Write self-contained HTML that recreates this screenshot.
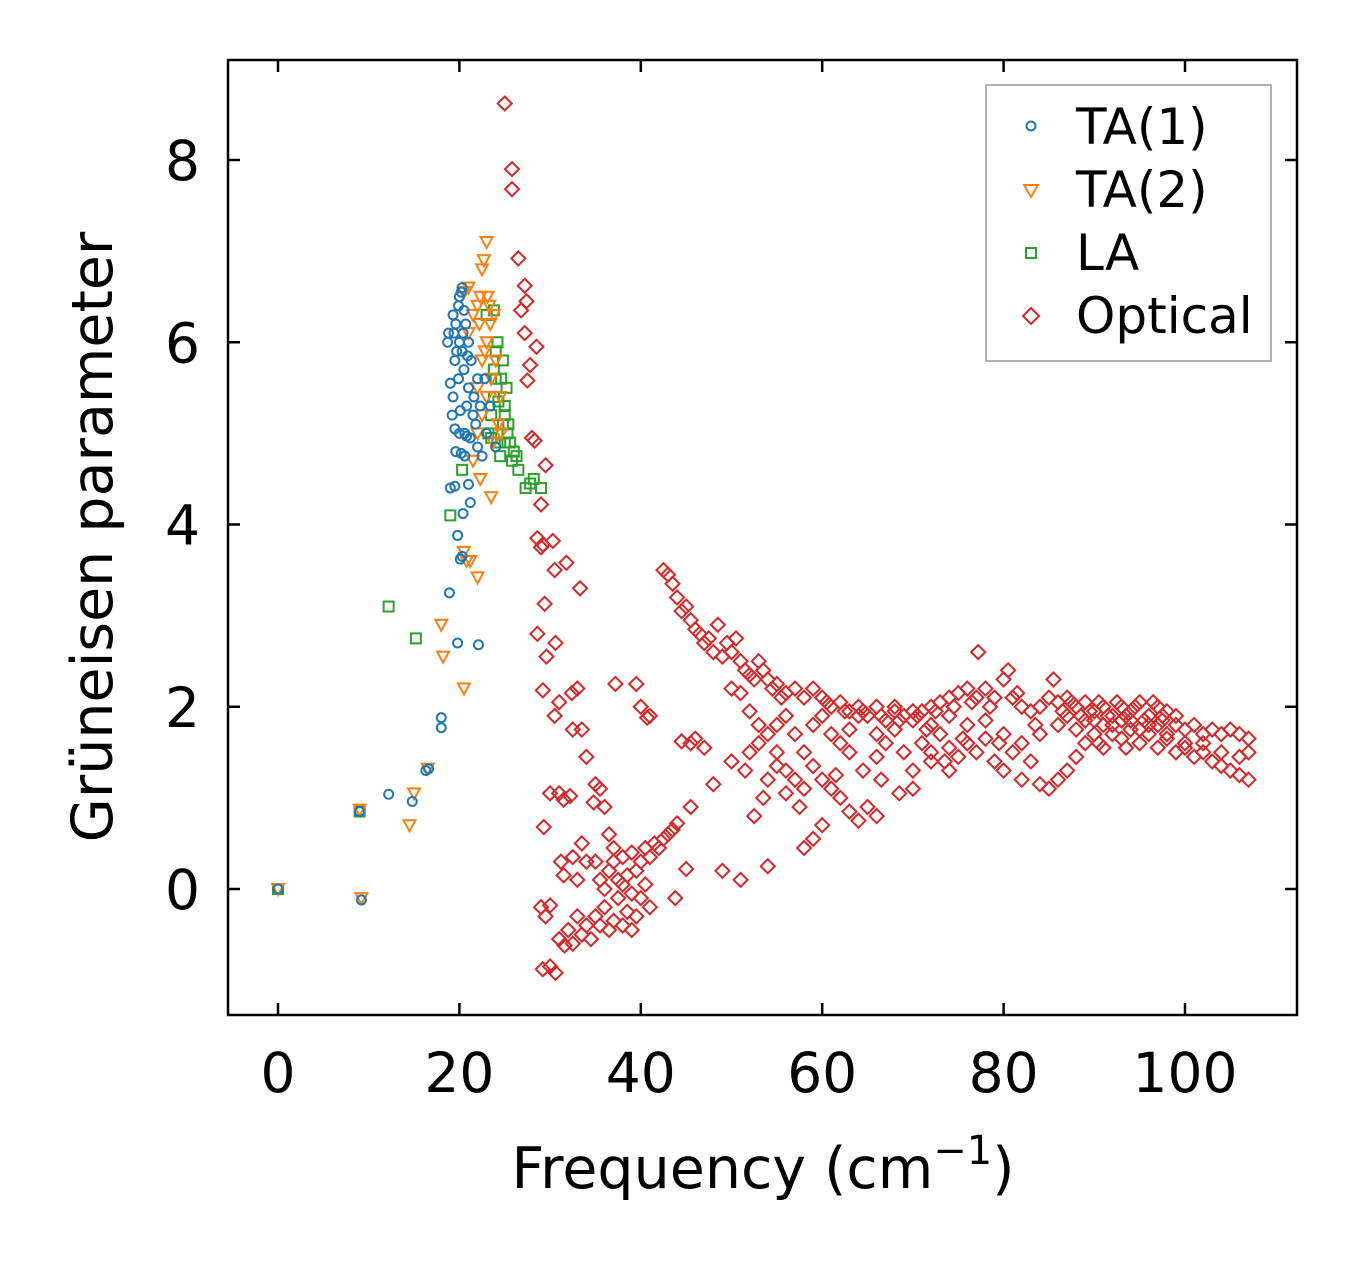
<!DOCTYPE html>
<html><head><meta charset="utf-8"><style>
html,body{margin:0;padding:0;background:#fff}
svg{display:block}
text{font-family:"DejaVu Sans","Liberation Sans",sans-serif;fill:#000}
</style></head><body>
<svg id="chart" width="1357" height="1264" viewBox="0 0 1357 1264">
<g id="marks"></g>
<rect x="228" y="60" width="1069" height="955" fill="none" stroke="#000" stroke-width="2.5"/>
<g id="axes"></g>
<text x="763" y="1188" font-size="57" text-anchor="middle">Frequency (cm<tspan dy="-24" font-size="40">−1</tspan><tspan dy="24">)</tspan></text>
<text transform="translate(112,537) rotate(-90)" font-size="57" text-anchor="middle">Grüneisen parameter</text>
<g>
<rect x="986" y="85" width="285" height="276" fill="#fff" stroke="#999" stroke-width="1.5"/>
<circle cx="1031" cy="126" r="4.5" fill="none" stroke="#1f77b4" stroke-width="2"/>
<text x="1076" y="144" font-size="50">TA(1)</text>
<path d="M1024,185 L1038,185 L1031,197 Z" fill="none" stroke="#ff7f0e" stroke-width="2"/>
<text x="1076" y="207" font-size="50">TA(2)</text>
<rect x="1026" y="248" width="10" height="10" fill="none" stroke="#2ca02c" stroke-width="2"/>
<text x="1076" y="270" font-size="50">LA</text>
<path d="M1031,308 L1039,316 L1031,324 L1023,316 Z" fill="none" stroke="#d62728" stroke-width="2"/>
<text x="1076" y="333" font-size="50">Optical</text>
</g>
</svg>
<script>
const xTicks=[0,20,40,60,80,100];
const yTicks=[0,2,4,6,8];
const ta1=[[0,0],[9,0.85],[9.2,-0.12],[12.2,1.04],[14.8,0.96],[16.3,1.3],[16.6,1.32],[18,1.88],[18,1.77],[18.9,3.25],[19,4.4],[19.5,4.42],[19.8,3.88],[20.1,3.62],[20.3,3.65],[19.8,2.7],[22.1,2.68],[20.4,4.12],[21,4.44],[21.2,4.24],[19.6,4.8],[20.2,4.78],[20.6,4.75],[22.5,4.75],[22,4.85],[19.5,5.05],[20,5.0],[20.8,4.97],[19,5.55],[19.3,5.4],[19.5,5.8],[19.9,5.6],[20.3,5.9],[20.5,5.7],[21,5.5],[21.3,5.8],[21.6,5.4],[22,5.6],[22.3,5.3],[18.7,6.0],[18.8,6.1],[19.3,6.3],[19.6,6.2],[19.9,6.4],[20.0,6.5],[20.2,6.55],[20.3,6.6],[20.5,6.35],[20.7,6.2],[21.0,6.0],[19.2,5.2],[20.1,5.25],[20.8,5.3],[21.5,5.2],[22.8,5.6],[23,5.0],[19.7,5.9],[20.9,5.85],[21.8,5.1],[20.4,6.1],[19.4,6.1],[20,6.0],[20.6,5.0],[21.2,4.95],[23.4,5.3],[24,4.85]];
const ta2=[[0,0],[9,0.87],[9.2,-0.1],[14.5,0.7],[15,1.05],[16.5,1.32],[18,2.9],[18.2,2.55],[20.5,2.2],[20.8,3.6],[21.2,3.6],[22,3.42],[20.5,3.7],[22.3,4.5],[23.5,4.3],[21.5,4.7],[22,5.0],[22.5,5.2],[23,5.4],[23.5,5.6],[24,5.8],[22,5.5],[22.5,5.8],[23,6.0],[23.4,6.2],[23.8,6.3],[21,6.1],[21.5,6.3],[22,6.4],[22.3,6.5],[22.5,6.8],[22.7,6.9],[23,7.1],[21,6.6],[20.5,6.55],[23.3,6.4],[24.3,5.1],[24.5,5.4],[23.7,4.9],[22.8,5.9],[22.2,6.2],[23.1,6.5],[24.6,5.0]];
const la=[[0,0],[9,0.85],[12.2,3.1],[15.2,2.75],[19,4.1],[20.3,4.6],[23.2,5.0],[23.5,5.2],[23.8,5.4],[24,5.6],[24,5.9],[24.2,6.0],[23.8,6.35],[23,6.3],[24.5,4.75],[24.8,5.1],[25,5.3],[25.2,5.5],[25.3,5.0],[25.6,4.9],[25.8,4.7],[26.3,4.75],[26.5,4.6],[27.3,4.4],[27.8,4.45],[28.2,4.5],[29,4.4],[25,4.9],[24.2,4.9],[23.5,4.95],[24.6,5.6],[25,5.2],[25.4,5.1],[26,4.8],[24.8,5.8],[23.8,5.7],[24.3,5.35]];
const optical=[[25,8.62],[25.8,7.9],[25.8,7.68],[26.5,6.92],[27.2,6.62],[27.4,6.45],[26.8,6.35],[27.2,6.1],[27.8,5.75],[27.5,5.58],[28.5,5.95],[28,4.95],[28.3,4.92],[29.5,4.65],[29,4.22],[28.6,3.85],[29,3.75],[29.2,3.78],[30.3,3.82],[30.5,3.5],[31.8,3.58],[33.3,3.3],[29.4,3.13],[28.6,2.8],[29.6,2.55],[30.6,2.7],[29.2,2.18],[31,2.05],[30.5,1.9],[32.4,2.15],[33,2.2],[32.5,1.75],[33.5,1.75],[37.2,2.25],[39.5,2.25],[40,2.0],[41,1.9],[40.7,1.88],[34,1.45],[35,1.15],[35.5,1.1],[34.8,0.95],[36,0.9],[31,1.05],[30,1.05],[31.5,0.98],[32.2,1.02],[29.3,0.68],[31.2,0.3],[31.5,0.15],[29,-0.2],[29.5,-0.3],[30,-0.18],[29.2,-0.88],[30,-0.85],[30.6,-0.92],[31,-0.55],[31.6,-0.62],[32,-0.45],[32.5,-0.6],[33,-0.3],[33.5,-0.5],[34,-0.4],[34.5,-0.55],[35,-0.3],[35.5,-0.4],[36,-0.2],[36.5,-0.45],[37,-0.35],[37.5,-0.1],[38,-0.4],[38.5,-0.25],[39,-0.45],[39.5,-0.3],[40,-0.1],[40.5,0.05],[41,-0.2],[36,0],[36.5,0.2],[37,0.3],[37.5,0.1],[38,0.35],[38.5,0.15],[39,0.4],[39.5,0.2],[40,0.3],[40.5,0.45],[41,0.35],[41.5,0.5],[42,0.45],[42.5,0.55],[43,0.6],[43.5,0.65],[44,0.72],[37,0.45],[36.5,0.6],[35,0.3],[34,0.3],[33.5,0.5],[32.5,0.35],[33,0.1],[35.5,0.1],[38,0.05],[39,-0.05],[43.8,-0.1],[45,0.22],[45.5,0.9],[49,0.2],[51,0.1],[54,0.25],[52.5,0.8],[53.5,1.0],[48,1.15],[47,1.55],[44.5,1.62],[45.5,1.6],[46,1.65],[50,1.4],[51.5,1.3],[52,1.5],[53,1.6],[54,1.7],[55,1.5],[56,1.3],[57,1.2],[58,1.1],[59,1.35],[60,1.2],[61,1.1],[62,1.0],[63,0.85],[64,0.75],[65,0.9],[66,0.8],[58,0.45],[59,0.55],[60,0.7],[61.5,1.25],[63,1.5],[64.5,1.3],[66,1.45],[67,1.6],[68,1.75],[69,1.5],[70,1.3],[71,1.6],[72,1.5],[73,1.7],[74,1.55],[75,1.45],[76,1.6],[77,1.5],[78,1.65],[79,1.4],[80,1.3],[81,1.5],[82,1.2],[83,1.4],[84,1.15],[85,1.1],[86,1.2],[87,1.3],[88,1.45],[89,1.6],[90,1.7],[91,1.55],[92,1.8],[93,1.65],[94,1.75],[95,1.6],[96,1.7],[97,1.55],[98,1.65],[99,1.5],[100,1.6],[101,1.45],[102,1.5],[103,1.4],[104,1.35],[105,1.3],[106,1.25],[107,1.2],[42.5,3.5],[43,3.45],[43.5,3.35],[44,3.2],[44.5,3.05],[45,3.1],[45.5,2.95],[46,2.85],[46.5,2.8],[47,2.7],[47.5,2.75],[48,2.6],[48.5,2.9],[49,2.55],[49.5,2.7],[50,2.6],[50.5,2.75],[51,2.5],[51.5,2.4],[52,2.35],[52.5,2.3],[53,2.5],[53.5,2.4],[54,2.3],[54.5,2.2],[55,2.25],[55.5,2.1],[56,2.15],[57,2.2],[58,2.1],[59,2.2],[60,2.1],[61,2.0],[62,2.05],[63,1.95],[64,2.0],[65,1.9],[66,2.0],[67,1.85],[68,1.95],[69,1.9],[70,1.85],[71,1.95],[72,2.0],[73,2.05],[74,2.1],[75,2.15],[76,2.2],[77,2.1],[77.2,2.6],[78,2.2],[79,2.1],[80,2.3],[80.5,2.4],[81,2.1],[82,2.0],[83,1.95],[84,2.0],[85,2.1],[85.5,2.3],[86,2.05],[87,2.1],[88,2.0],[89,2.05],[90,1.95],[91,2.0],[92,1.9],[93,2.0],[94,1.95],[95,2.05],[96,1.9],[97,2.0],[98,1.95],[99,1.8],[100,1.75],[101,1.8],[102,1.7],[103,1.75],[104,1.7],[105,1.75],[106,1.7],[107,1.65],[50,2.2],[51,2.15],[52,1.95],[53,1.8],[55,1.8],[56,1.9],[57,1.7],[58,1.5],[59,1.8],[60,1.9],[61,1.7],[62,1.6],[63,1.75],[64,1.9],[66,1.7],[68,2.0],[70,1.95],[72,1.8],[74,1.9],[76,1.8],[78,1.85],[80,1.7],[82,1.6],[84,1.7],[86,1.8],[88,1.75],[90,1.85],[92,1.7],[94,1.85],[96,1.8],[98,1.7],[100,1.55],[102,1.6],[104,1.5],[106,1.45],[107,1.5],[90.5,1.6],[93.5,1.55],[97.5,1.85],[66.5,1.2],[68.5,1.05],[70,1.1],[72,1.4],[74,1.3],[54,1.2],[56,1.05],[57.5,0.9],[55,1.35],[86.5,1.95],[87.5,2.05],[88.5,1.9],[89.5,1.95],[90.5,2.05],[91.5,1.9],[92.5,2.05],[93.5,1.9],[94.5,2.0],[95.5,1.85],[96.5,2.05],[97.5,1.9],[91,1.8],[93,1.85],[95,1.75],[97,1.8],[99,1.9],[89,1.85],[87,1.9],[60.5,2.05],[62.5,1.95],[64.5,1.95],[66.5,1.9],[68.5,1.85],[70.5,1.9],[72.5,1.95],[74.5,2.0],[76.5,2.05],[78.5,2.0],[81.5,2.15],[83.5,1.8],[79.5,1.6],[75.5,1.65],[73.5,1.4],[71.5,1.75]];

const NS='http://www.w3.org/2000/svg';
function xs(v){return 278+v*(1185-278)/100;}
function ys(v){return 889-v*(889-160)/8;}
const marks=document.getElementById('marks');
const axes=document.getElementById('axes');
function mk(tag,attrs,parent){const e=document.createElementNS(NS,tag);for(const k in attrs)e.setAttribute(k,attrs[k]);parent.appendChild(e);return e;}

optical.forEach(p=>{const x=xs(p[0]),y=ys(p[1]);
  const e=mk('path',{d:`M${x},${y-7}L${x+7},${y}L${x},${y+7}L${x-7},${y}Z`,fill:'none',stroke:'#d62728','stroke-width':2},marks);
  
  });
la.forEach(p=>{const x=xs(p[0]),y=ys(p[1]);
  const e=mk('rect',{x:x-5,y:y-5,width:10,height:10,fill:'none',stroke:'#2ca02c','stroke-width':2},marks);
  
  });
ta2.forEach(p=>{const x=xs(p[0]),y=ys(p[1]);
  const e=mk('path',{d:`M${x-6},${y-5}L${x+6},${y-5}L${x},${y+6}Z`,fill:'none',stroke:'#ff7f0e','stroke-width':2},marks);
  
  });
ta1.forEach(p=>{
  const e=mk('circle',{cx:xs(p[0]),cy:ys(p[1]),r:4.5,fill:'none',stroke:'#1f77b4','stroke-width':2},marks);
  
  });

xTicks.forEach(t=>{const x=xs(t);
  mk('line',{x1:x,x2:x,y1:1015,y2:1003,stroke:'#000','stroke-width':2.5},axes);
  mk('line',{x1:x,x2:x,y1:60,y2:72,stroke:'#000','stroke-width':2.5},axes);
  const tx=mk('text',{x:x,y:1092,'font-size':55,'text-anchor':'middle'},axes);
  tx.textContent=t;
  
  });
yTicks.forEach(t=>{const y=ys(t);
  mk('line',{x1:228,x2:240,y1:y,y2:y,stroke:'#000','stroke-width':2.5},axes);
  mk('line',{x1:1297,x2:1285,y1:y,y2:y,stroke:'#000','stroke-width':2.5},axes);
  const tx=mk('text',{x:200,y:y+20,'font-size':55,'text-anchor':'end'},axes);
  tx.textContent=t;
  
  });
</script>
</body></html>
